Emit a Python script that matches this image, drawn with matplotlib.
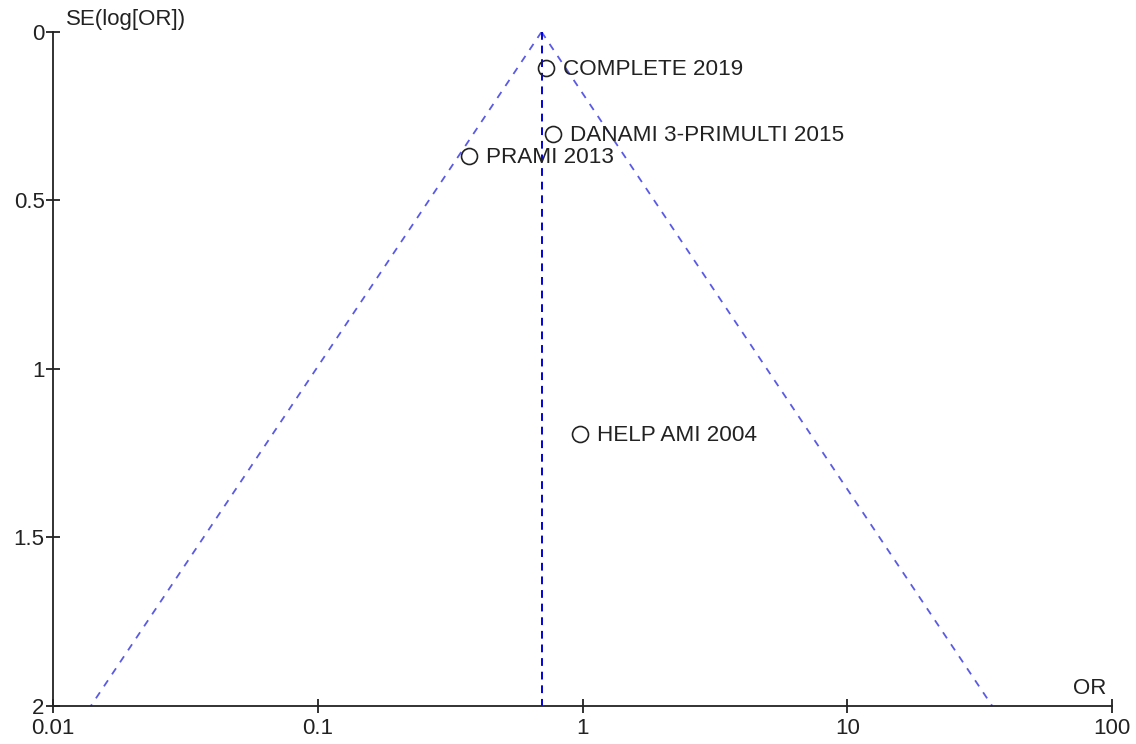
import numpy as np
import matplotlib
matplotlib.use('Agg')
import matplotlib.pyplot as plt

plt.rcParams['font.family'] = ['Liberation Sans', 'DejaVu Sans']

studies = ['COMPLETE 2019', 'DANAMI 3-PRIMULTI 2015', 'PRAMI 2013', 'HELP AMI 2004']
odds_ratio = [0.728, 0.774, 0.373, 0.98]
se_log_or = [0.107, 0.303, 0.368, 1.193]
pooled_or = 0.70
se_max = 2.0

fig = plt.figure(figsize=(11.36, 7.44), dpi=100)
ax = fig.add_axes([0.0467, 0.0511, 0.9322, 0.906])

# funnel (95% limits) and pooled estimate
se_line = np.array([0.0, se_max])
lo = np.exp(np.log(pooled_or) - 1.96 * se_line)
hi = np.exp(np.log(pooled_or) + 1.96 * se_line)
ax.plot(lo, se_line, color='#5a5ae6', ls=(0, (4, 4)), lw=1.3)
ax.plot(hi, se_line, color='#5a5ae6', ls=(0, (4, 4)), lw=1.3)
ax.plot([pooled_or, pooled_or], se_line, color='#0000dd', ls=(0, (4, 3)), lw=1.4)

ax.plot(odds_ratio, se_log_or, 'o', ms=11.5, mfc='none', mec='#222222', mew=1.2, ls='none')
for name, x, y in zip(studies, odds_ratio, se_log_or):
    ax.annotate(name, (x, y), xytext=(12, -1), textcoords='offset points',
                va='center', ha='left', fontsize=16.2, color='#222222')

ax.set_xscale('log')
ax.set_xlim(0.01, 100)
ax.set_ylim(2, 0)
ax.set_xticks([0.01, 0.1, 1, 10, 100])
ax.set_xticklabels(['0.01', '0.1', '1', '10', '100'])
ax.xaxis.set_minor_locator(matplotlib.ticker.NullLocator())
ax.set_yticks([0, 0.5, 1, 1.5, 2])
ax.set_yticklabels(['0', '0.5', '1', '1.5', '2'])
ax.tick_params(direction='inout', length=10, width=1.3, labelsize=16, pad=1,
               colors='#222222')
ax.tick_params(axis='x', pad=3.5)

for s in ['top', 'right']:
    ax.spines[s].set_visible(False)
for s in ['left', 'bottom']:
    ax.spines[s].set_linewidth(1.3)
    ax.spines[s].set_color('#222222')

ax.text(0.012, 1.003, 'SE(log[OR])', transform=ax.transAxes, fontsize=16,
        color='#222222', va='bottom', ha='left')
ax.text(0.995, 0.01, 'OR', transform=ax.transAxes, fontsize=16,
        color='#222222', va='bottom', ha='right')

fig.savefig('out.png', dpi=100)
